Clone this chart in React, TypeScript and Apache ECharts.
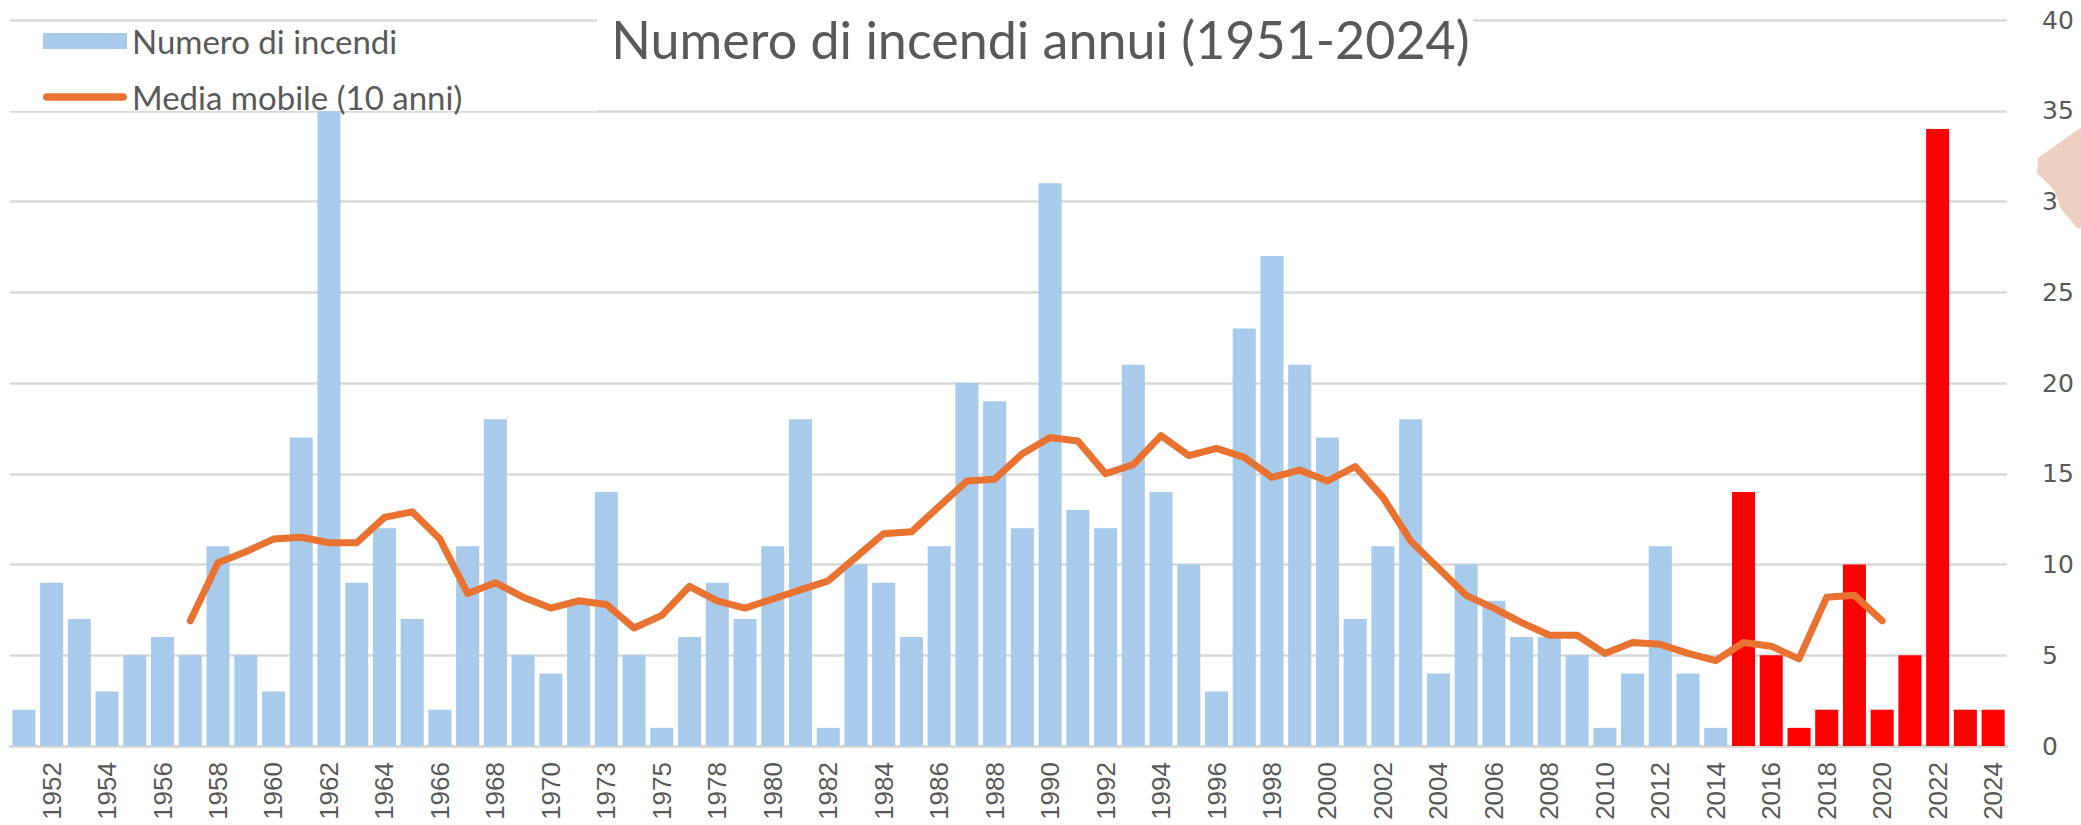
import React, { useEffect, useRef } from "react";
import * as echarts from "echarts";

const TITLE = "Numero di incendi annui (1951-2024)";
const BAR_NAME = "Numero di incendi";
const LINE_NAME = "Media mobile (10 anni)";

const YEARS = [
  "1951", "1952", "1953", "1954", "1955", "1956", "1957", "1958", "1959", "1960",
  "1961", "1962", "1963", "1964", "1965", "1966", "1967", "1968", "1969", "1970",
  "1972", "1973", "1974", "1975", "1976", "1978", "1979", "1980", "1981", "1982",
  "1983", "1984", "1985", "1986", "1987", "1988", "1989", "1990", "1991", "1992",
  "1993", "1994", "1995", "1996", "1997", "1998", "1999", "2000", "2001", "2002",
  "2003", "2004", "2005", "2006", "2007", "2008", "2009", "2010", "2011", "2012",
  "2013", "2014", "2015", "2016", "2017", "2018", "2019", "2020", "2021", "2022",
  "2023", "2024",
];

const FIRES = [
  2, 9, 7, 3, 5, 6, 5, 11, 5, 3,
  17, 39, 9, 12, 7, 2, 11, 18, 5, 4,
  8, 14, 5, 1, 6, 9, 7, 11, 18, 1,
  10, 9, 6, 11, 20, 19, 12, 31, 13, 12,
  21, 14, 10, 3, 23, 27, 21, 17, 7, 11,
  18, 4, 10, 8, 6, 6, 5, 1, 4, 11,
  4, 1, 14, 5, 1, 2, 10, 2, 5, 34,
  2, 2,
];

const MOVING_AVG = [
  null, null, null, null, null, null, 6.9, 10.1, 10.7, 11.4,
  11.5, 11.2, 11.2, 12.6, 12.9, 11.4, 8.4, 9.0, 8.2, 7.6,
  8.0, 7.8, 6.5, 7.2, 8.8, 8.0, 7.6, 8.1, 8.6, 9.1,
  10.4, 11.7, 11.8, 13.2, 14.6, 14.7, 16.1, 17.0, 16.8, 15.0,
  15.5, 17.1, 16.0, 16.4, 15.9, 14.8, 15.2, 14.6, 15.4, 13.7,
  11.3, 9.8, 8.3, 7.6, 6.8, 6.1, 6.1, 5.1, 5.7, 5.6,
  5.1, 4.7, 5.7, 5.5, 4.8, 8.2, 8.3, 6.9, null, null,
  null, null,
];

const HIGHLIGHT_FROM = 2015;

const BLUE = "#a8caeb";
const RED = "#ff0000";
const ORANGE = "#ea7231";
const GRID = "#d9d9d9";
const TEXT = "#595959";

const LINE_ICON =
  "path://M4,0 L84,0 A4,4 0 0 1 84,8 L4,8 A4,4 0 0 1 4,0 Z";

export default function App() {
  const ref = useRef<HTMLDivElement>(null);

  useEffect(() => {
    if (!ref.current) return;
    const chart = echarts.init(ref.current, undefined, { renderer: "svg" });

    const barData = FIRES.map((v, i) =>
      Number(YEARS[i]) >= HIGHLIGHT_FROM
        ? { value: v, itemStyle: { color: RED } }
        : { value: v }
    );

    chart.setOption({
      animation: false,
      backgroundColor: "#ffffff",
      title: {
        text: TITLE,
        left: "center",
        top: 8,
        z: 8,
        textStyle: {
          fontFamily: "Lato",
          fontSize: 52,
          lineHeight: 52,
          fontWeight: "normal",
          color: TEXT,
        },
      },
      legend: {
        orient: "vertical",
        left: 38,
        top: 19,
        itemWidth: 84,
        itemHeight: 16,
        itemGap: 22,
        z: 8,
        textStyle: {
          fontFamily: "Lato",
          fontSize: 33,
          lineHeight: 34,
          color: TEXT,
        },
        data: [
          { name: BAR_NAME, icon: "rect" },
          { name: LINE_NAME, icon: LINE_ICON, itemStyle: { color: ORANGE } },
        ],
      },
      grid: { left: 10, right: 74, top: 20, bottom: 79, containLabel: false },
      xAxis: {
        type: "category",
        data: YEARS,
        axisLine: { show: true, lineStyle: { color: GRID, width: 3 } },
        axisTick: { show: false },
        axisLabel: {
          rotate: 90,
          margin: 16,
          interval: (index: number) => index % 2 === 1,
          fontFamily: "Liberation Sans",
          fontSize: 26,
          color: TEXT,
        },
      },
      yAxis: {
        type: "value",
        position: "right",
        min: 0,
        max: 40,
        interval: 5,
        axisLine: { show: false },
        axisTick: { show: false },
        splitLine: { lineStyle: { color: GRID, width: 2.5 } },
        axisLabel: {
          margin: 35,
          fontFamily: "DejaVu Sans",
          fontSize: 25,
          color: TEXT,
        },
      },
      series: [
        {
          name: BAR_NAME,
          type: "bar",
          data: barData,
          barCategoryGap: "17%",
          itemStyle: { color: BLUE },
          z: 2,
        },
        {
          name: LINE_NAME,
          type: "line",
          data: MOVING_AVG,
          symbol: "none",
          connectNulls: false,
          lineStyle: { color: ORANGE, width: 7, cap: "round", join: "round" },
          itemStyle: { color: ORANGE },
          z: 3,
        },
      ],
      graphic: [
        {
          type: "rect",
          z: 5,
          silent: true,
          shape: { x: 8, y: 23, width: 589, height: 88 },
          style: { fill: "#ffffff" },
        },
        {
          type: "rect",
          z: 5,
          silent: true,
          shape: { x: 597, y: 0, width: 876, height: 108 },
          style: { fill: "#ffffff" },
        },
        {
          type: "polygon",
          z: 10,
          silent: true,
          shape: {
            points: [
              [2077, 130],
              [2062, 141],
              [2038, 158],
              [2037, 173],
              [2054, 190],
              [2062, 210],
              [2077, 228],
              [2081, 228],
              [2081, 128],
            ],
          },
          style: { fill: "#eed0c2" },
        },
      ],
    });

    return () => chart.dispose();
  }, []);

  return (
    <div
      ref={ref}
      style={{ position: "fixed", left: 0, top: 0, width: 2081, height: 825 }}
    />
  );
}
